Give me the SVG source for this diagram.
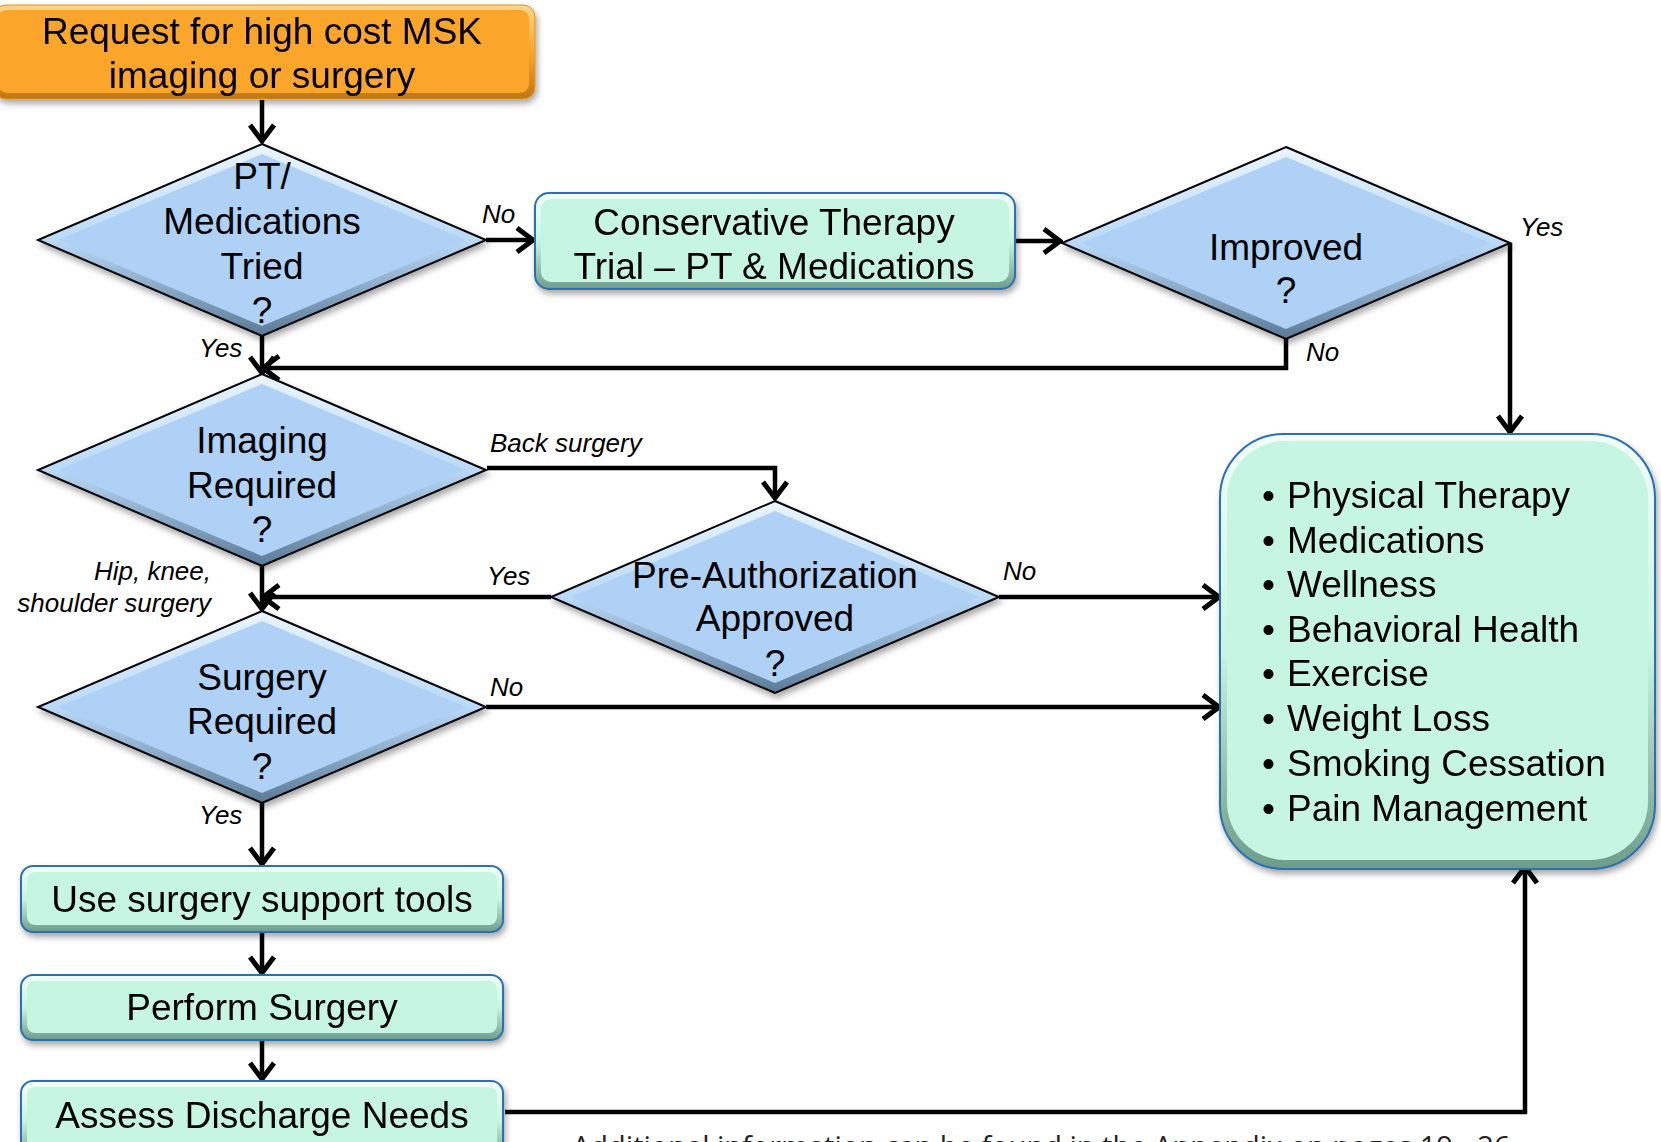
<svg xmlns="http://www.w3.org/2000/svg" width="1661" height="1142" viewBox="0 0 1661 1142">
<style>
.t{font-family:"Liberation Sans",Arial,sans-serif;font-size:37px;fill:#000;text-anchor:middle}
.l{font-family:"Liberation Sans",Arial,sans-serif;font-size:26px;font-style:italic;fill:#000}
.b{font-family:"Liberation Sans",Arial,sans-serif;font-size:37px;fill:#000}
.c{fill:none;stroke:#000;stroke-width:4.5;marker-end:url(#ah)}
.gout{fill:url(#gbev);stroke:#2A70B2;stroke-width:2}
.gin{fill:#C6F5E1}
.note{font-family:"Open Sans","Liberation Sans",sans-serif;font-size:29px;fill:#222}
</style>
<defs>
<linearGradient id="bev" x1="0" y1="0" x2="0" y2="1">
<stop offset="0" stop-color="#EAF5FF"/><stop offset="0.5" stop-color="#B9D9F7"/><stop offset="1" stop-color="#5A7A96"/>
</linearGradient>
<linearGradient id="gbev" x1="0" y1="0" x2="0" y2="1">
<stop offset="0" stop-color="#F2FFF9"/><stop offset="0.5" stop-color="#C6F5E1"/><stop offset="1" stop-color="#6F9C8A"/>
</linearGradient>
<linearGradient id="obev" x1="0" y1="0" x2="0" y2="1">
<stop offset="0" stop-color="#FFD68A"/><stop offset="0.5" stop-color="#FBA52A"/><stop offset="1" stop-color="#C17612"/>
</linearGradient>
<filter id="sh" x="-10%" y="-10%" width="125%" height="140%">
<feDropShadow dx="2" dy="4" stdDeviation="3" flood-color="#000" flood-opacity="0.35"/>
</filter>
<g id="dia">
<polygon points="0,-96 224,0 0,96 -224,0" fill="url(#bev)" stroke="#000" stroke-width="2"/>
<polygon points="0,-86 204,0 0,86 -204,0" fill="#AED1F5"/>
</g>
<marker id="ah" viewBox="0 0 22 28" refX="19" refY="14" markerWidth="22" markerHeight="28" markerUnits="userSpaceOnUse" orient="auto">
<path d="M3,2 L19,14 L3,26" fill="none" stroke="#000" stroke-width="5"/>
</marker>
</defs>
<rect width="1661" height="1142" fill="#fff"/>

<g id="connectors">
<path class="c" d="M262,100 V141"/>
<path class="c" d="M486,240 H533"/>
<path class="c" d="M1015,241 H1060"/>
<path class="c" d="M262,336 V373"/>
<path class="c" d="M1286,339 V368 H263"/>
<path class="c" d="M487,468 H775 V498"/>
<path class="c" d="M262,566 V609"/>
<path class="c" d="M551,597 H263"/>
<path class="c" d="M999,597 H1219"/>
<path class="c" d="M486,707 H1219"/>
<path class="c" d="M1510,243 V432"/>
<path class="c" d="M262,803 V864"/>
<path class="c" d="M262,932 V973"/>
<path class="c" d="M262,1040 V1079"/>
<path class="c" d="M505,1112 H1525 V867"/>
</g>

<g id="labels">
<text class="l" x="482" y="223">No</text>
<text class="l" x="199" y="357">Yes</text>
<text class="l" x="1520" y="236">Yes</text>
<text class="l" x="1306" y="361">No</text>
<text class="l" x="490" y="452">Back surgery</text>
<text class="l" x="211" y="580" text-anchor="end">Hip, knee,</text>
<text class="l" x="211" y="612" text-anchor="end">shoulder surgery</text>
<text class="l" x="487" y="585">Yes</text>
<text class="l" x="1003" y="580">No</text>
<text class="l" x="490" y="696">No</text>
<text class="l" x="199" y="824">Yes</text>
</g>

<g id="start" filter="url(#sh)">
<rect x="-6" y="5" width="541" height="94" rx="12" fill="url(#obev)" stroke="#E39318" stroke-width="1"/>
<rect x="-2" y="10" width="531" height="83" rx="9" fill="#FBA52A"/>
<text class="t" x="262" y="44">Request for high cost MSK</text>
<text class="t" x="262" y="88">imaging or surgery</text>
</g>

<g id="pt-tried">
<use href="#dia" x="262" y="240" filter="url(#sh)"/>
<text class="t" x="262" y="189">PT/</text>
<text class="t" x="262" y="234">Medications</text>
<text class="t" x="262" y="279">Tried</text>
<text class="t" x="262" y="323">?</text>
</g>

<g id="conservative" filter="url(#sh)">
<rect class="gout" x="535" y="193" width="480" height="96" rx="14"/>
<rect class="gin" x="541" y="199" width="468" height="83" rx="10"/>
<text class="t" x="774" y="235">Conservative Therapy</text>
<text class="t" x="774" y="279">Trial – PT &amp; Medications</text>
</g>

<g id="improved">
<use href="#dia" x="1286" y="243" filter="url(#sh)"/>
<text class="t" x="1286" y="260">Improved</text>
<text class="t" x="1286" y="303">?</text>
</g>

<g id="imaging">
<use href="#dia" x="262" y="470" filter="url(#sh)"/>
<text class="t" x="262" y="453">Imaging</text>
<text class="t" x="262" y="498">Required</text>
<text class="t" x="262" y="542">?</text>
</g>

<g id="preauth">
<use href="#dia" x="775" y="597" filter="url(#sh)"/>
<text class="t" x="775" y="588">Pre-Authorization</text>
<text class="t" x="775" y="631">Approved</text>
<text class="t" x="775" y="676">?</text>
</g>

<g id="surgery">
<use href="#dia" x="262" y="707" filter="url(#sh)"/>
<text class="t" x="262" y="690">Surgery</text>
<text class="t" x="262" y="734">Required</text>
<text class="t" x="262" y="779">?</text>
</g>

<g id="support-tools" filter="url(#sh)">
<rect class="gout" x="21" y="866" width="482" height="66" rx="12"/>
<rect class="gin" x="27" y="872" width="470" height="53" rx="8"/>
<text class="t" x="262" y="912">Use surgery support tools</text>
</g>

<g id="perform" filter="url(#sh)">
<rect class="gout" x="21" y="975" width="482" height="65" rx="12"/>
<rect class="gin" x="27" y="981" width="470" height="52" rx="8"/>
<text class="t" x="262" y="1020">Perform Surgery</text>
</g>

<g id="discharge" filter="url(#sh)">
<rect class="gout" x="21" y="1081" width="482" height="80" rx="12"/>
<rect class="gin" x="27" y="1087" width="470" height="67" rx="8"/>
<text class="t" x="262" y="1128">Assess Discharge Needs</text>
</g>

<g id="alternatives" filter="url(#sh)">
<rect class="gout" x="1220" y="434" width="435" height="435" rx="64"/>
<rect class="gin" x="1227" y="441" width="421" height="419" rx="58"/>
<text class="b"><tspan x="1262" y="508">•</tspan><tspan x="1287" y="508">Physical Therapy</tspan></text>
<text class="b"><tspan x="1262" y="553">•</tspan><tspan x="1287" y="553">Medications</tspan></text>
<text class="b"><tspan x="1262" y="597">•</tspan><tspan x="1287" y="597">Wellness</tspan></text>
<text class="b"><tspan x="1262" y="642">•</tspan><tspan x="1287" y="642">Behavioral Health</tspan></text>
<text class="b"><tspan x="1262" y="686">•</tspan><tspan x="1287" y="686">Exercise</tspan></text>
<text class="b"><tspan x="1262" y="731">•</tspan><tspan x="1287" y="731">Weight Loss</tspan></text>
<text class="b"><tspan x="1262" y="776">•</tspan><tspan x="1287" y="776">Smoking Cessation</tspan></text>
<text class="b"><tspan x="1262" y="821">•</tspan><tspan x="1287" y="821">Pain Management</tspan></text>
</g>

<text class="note" x="572" y="1157">Additional information can be found in the Appendix on pages 19 - 26</text>
</svg>
